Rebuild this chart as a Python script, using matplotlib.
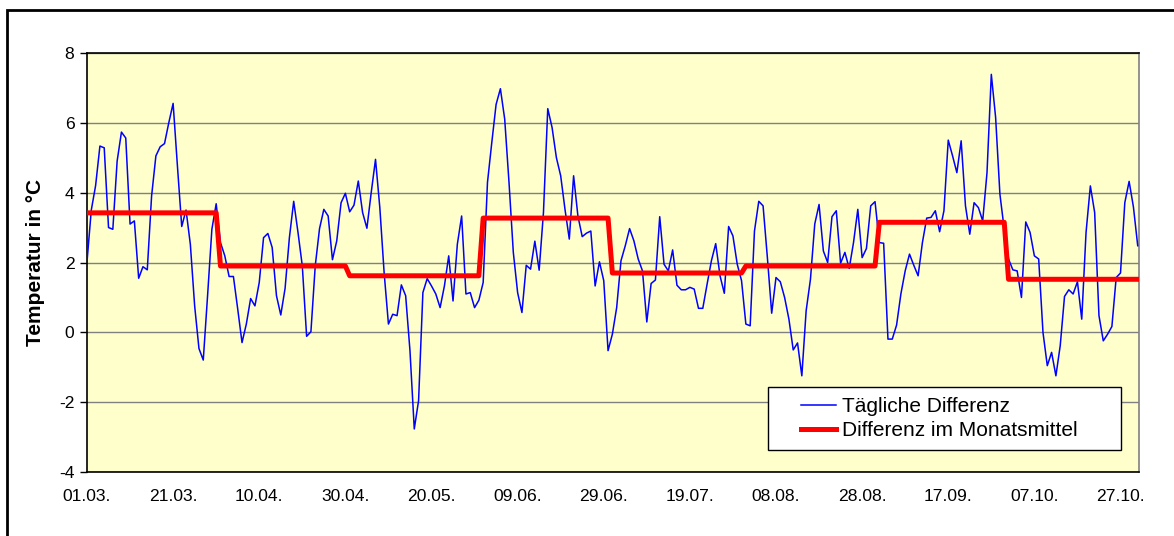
import numpy as np
import matplotlib
matplotlib.use('Agg')
import matplotlib.pyplot as plt
from matplotlib.patches import Rectangle

plt.rcParams['font.family'] = ['Liberation Sans', 'DejaVu Sans']
plt.rcParams['axes.unicode_minus'] = False

# daily difference 01.03. - 31.10.
daily_diff = [
    2.02, 3.5, 4.2, 5.33, 5.28, 3.0, 2.95, 4.9, 5.73, 5.56,
    3.1, 3.19, 1.55, 1.88, 1.79, 3.9, 5.05, 5.31, 5.4, 6.0,
    6.55, 4.76, 3.03, 3.5, 2.52, 0.76, -0.46, -0.79, 1.05, 2.95,
    3.68, 2.57, 2.19, 1.6, 1.6, 0.67, -0.29, 0.24, 0.97, 0.76,
    1.43, 2.71, 2.83, 2.43, 1.05, 0.5, 1.26, 2.71, 3.75, 2.86,
    1.9, -0.11, 0.02, 1.9, 2.97, 3.52, 3.33, 2.08, 2.62, 3.71,
    3.98, 3.45, 3.64, 4.33, 3.43, 2.98, 4.0, 4.95, 3.57, 1.71,
    0.24, 0.52, 0.48, 1.36, 1.05, -0.52, -2.76, -1.95, 1.14, 1.54,
    1.33, 1.1, 0.71, 1.33, 2.19, 0.9, 2.52, 3.33, 1.1, 1.14,
    0.71, 0.92, 1.43, 4.29, 5.43, 6.52, 6.97, 6.1, 4.29, 2.29,
    1.14, 0.57, 1.92, 1.81, 2.61, 1.78, 3.43, 6.4, 5.86, 5.0,
    4.48, 3.52, 2.67, 4.48, 3.33, 2.74, 2.84, 2.9, 1.33, 2.02,
    1.48, -0.52, -0.05, 0.71, 2.05, 2.48, 2.97, 2.62, 2.1, 1.76,
    0.3, 1.4, 1.5, 3.31, 1.95, 1.76, 2.36, 1.35, 1.22, 1.22,
    1.29, 1.24, 0.69, 0.69, 1.38, 2.05, 2.54, 1.62, 1.12, 3.03,
    2.76, 1.95, 1.48, 0.24, 0.19, 2.9, 3.75, 3.62, 2.14, 0.55,
    1.57, 1.45, 1.0, 0.38, -0.5, -0.3, -1.24, 0.62, 1.52, 3.1,
    3.66, 2.33, 2.0, 3.31, 3.48, 1.98, 2.29, 1.83, 2.57, 3.52,
    2.14, 2.4, 3.62, 3.74, 2.57, 2.55, -0.19, -0.19, 0.21, 1.1,
    1.76, 2.24, 1.92, 1.62, 2.57, 3.27, 3.29, 3.48, 2.88, 3.48,
    5.5, 5.05, 4.57, 5.48, 3.62, 2.81, 3.71, 3.57, 3.19, 4.57,
    7.38, 6.15, 3.95, 2.95, 2.1, 1.79, 1.76, 1.0, 3.16, 2.86,
    2.19, 2.1, 0.0, -0.95, -0.57, -1.24, -0.38, 1.03, 1.22, 1.1,
    1.45, 0.38, 2.86, 4.19, 3.43, 0.48, -0.24, -0.05, 0.17, 1.57,
    1.7, 3.71, 4.32, 3.59, 2.48,
]

# monthly mean difference, March - October
month_days = [31, 30, 31, 30, 31, 31, 30, 31]
month_mean = [3.42, 1.9, 1.62, 3.27, 1.7, 1.9, 3.15, 1.52]

tick_labels = ['01.03.', '21.03.', '10.04.', '30.04.', '20.05.', '09.06.', '29.06.',
               '19.07.', '08.08.', '28.08.', '17.09.', '07.10.', '27.10.']

days = np.arange(len(daily_diff))
monthly = np.repeat(month_mean, month_days)

fig = plt.figure(figsize=(11.74, 5.36), dpi=100)
ax = fig.add_axes([0.0741, 0.1188, 0.8961, 0.7829])
ax.set_facecolor('#FFFFCC')

ax.plot(days, daily_diff, color='#0000FF', lw=1.1, zorder=3, label='Tägliche Differenz')
ax.plot(days, monthly, color='#FF0000', lw=3.6, zorder=3, label='Differenz im Monatsmittel')

ax.set_xlim(0, len(daily_diff) - 0.7)
ax.set_ylim(-4, 8)
ax.set_yticks(range(-4, 9, 2))
ax.set_xticks(days[::20])
ax.set_xticklabels(tick_labels)
ax.tick_params(axis='x', length=0, pad=12, labelsize=12.6)
ax.tick_params(axis='y', length=5, width=1, pad=4, labelsize=12.6)
ax.grid(axis='y', color='#808080', lw=1.0, zorder=1)
ax.set_axisbelow(True)

for side in ['left', 'bottom', 'top']:
    ax.spines[side].set_color('black')
    ax.spines[side].set_linewidth(1.2)
ax.spines['right'].set_color('#808080')
ax.spines['right'].set_linewidth(1.2)

ax.set_ylabel('Temperatur in °C', fontsize=15, fontweight='bold', va='center')
ax.yaxis.set_label_coords(-0.049, 0.5)

# legend box like the Excel one
ax.add_patch(Rectangle((0.647, 0.053), 0.336, 0.15, transform=ax.transAxes,
                       facecolor='white', edgecolor='black', lw=1.0, zorder=4))
leg = ax.legend(loc='center left', bbox_to_anchor=(0.679, 0.128), frameon=False,
                fontsize=15, handlelength=1.67, handletextpad=0.3,
                labelspacing=0.25, borderpad=0, borderaxespad=0)
leg.set_zorder(5)

# outer chart frame (cut off at right and bottom)
fig.add_artist(Rectangle((7 / 1174, -0.1), 1.2, 1 - 10 / 536 + 0.1,
                         transform=fig.transFigure, fill=False,
                         edgecolor='black', lw=2.0))

plt.savefig('out.png', dpi=100)
